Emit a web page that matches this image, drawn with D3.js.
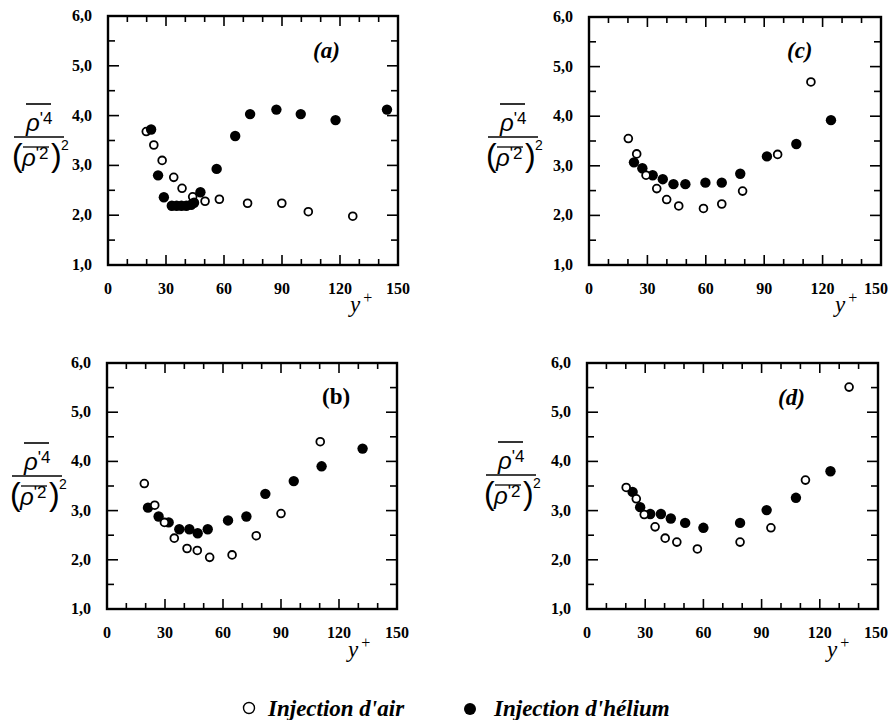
<!DOCTYPE html>
<html>
<head>
<meta charset="utf-8">
<script src="https://cdn.jsdelivr.net/npm/d3@7"></script>
<style>
  html, body { margin: 0; padding: 0; background: #fff; }
  svg { display: block; }
</style>
</head>
<body>
<svg id="chart" width="891" height="720"></svg>
<script>
// ---------------- DATA ----------------
const xTickValues = [0, 30, 60, 90, 120, 150];
const yTickValues = [1, 2, 3, 4, 5, 6];
const yTickLabels = ["1,0", "2,0", "3,0", "4,0", "5,0", "6,0"];
const panelLabels = ["(a)", "(c)", "(b)", "(d)"];
const legendLabels = ["Injection d'air", "Injection d'hélium"];

// panel (a)
const airA = [[19.8,3.68],[23.7,3.41],[28.0,3.10],[34.0,2.76],[38.3,2.54],[43.8,2.37],[50.2,2.28],[57.6,2.32],[72.2,2.24],[89.9,2.24],[103.6,2.07],[126.6,1.98]];
const heliumA = [[22.3,3.72],[25.9,2.80],[28.9,2.36],[33.0,2.19],[35.5,2.19],[38.0,2.19],[40.5,2.19],[43.0,2.21],[44.5,2.25],[47.8,2.46],[56.2,2.93],[65.8,3.59],[73.5,4.03],[87.1,4.12],[99.7,4.03],[117.7,3.91],[144.3,4.12]];
// panel (c)
const airC = [[20.2,3.55],[24.5,3.24],[29.3,2.81],[34.8,2.54],[39.9,2.32],[46.1,2.19],[58.8,2.14],[68.2,2.23],[78.9,2.49],[96.9,3.23],[114.0,4.69]];
const heliumC = [[23.1,3.07],[27.4,2.95],[32.7,2.81],[37.9,2.73],[43.4,2.63],[49.5,2.63],[59.8,2.66],[68.2,2.66],[77.7,2.84],[91.4,3.19],[106.5,3.44],[124.3,3.92]];
// panel (b)
const airB = [[19.3,3.55],[24.7,3.11],[29.7,2.76],[34.8,2.44],[41.4,2.23],[46.7,2.19],[53.1,2.05],[64.7,2.10],[77.2,2.49],[90.0,2.94],[110.3,4.40]];
const heliumB = [[21.2,3.06],[26.7,2.88],[31.9,2.76],[37.4,2.62],[42.6,2.62],[46.9,2.54],[52.1,2.62],[62.6,2.80],[72.1,2.88],[81.9,3.34],[96.6,3.60],[111.0,3.90],[132.2,4.26]];
// panel (d)
const airD = [[20.2,3.47],[25.4,3.24],[29.5,2.92],[35.1,2.67],[40.3,2.44],[46.3,2.36],[56.9,2.22],[78.9,2.36],[94.8,2.65],[112.6,3.62],[135.1,5.51]];
const heliumD = [[23.5,3.38],[27.4,3.07],[32.6,2.93],[38.1,2.93],[43.2,2.84],[50.6,2.75],[60.0,2.65],[78.9,2.75],[92.6,3.01],[107.7,3.26],[125.5,3.80]];

// ---------------- LAYOUT ----------------
const panels = [
  { label: panelLabels[0], italic: true,  box: [108, 398, 16, 265],  air: airA, he: heliumA, airOnTop: false, title: [39, 137],  yplus: [350, 312], lab: [313, 58] },
  { label: panelLabels[1], italic: true,  box: [589, 881, 17, 265],  air: airC, he: heliumC, airOnTop: true,  title: [513, 137], yplus: [835, 312], lab: [787, 58] },
  { label: panelLabels[2], italic: false, box: [107, 397, 363, 609], air: airB, he: heliumB, airOnTop: true,  title: [37, 476],  yplus: [348, 657], lab: [322, 404] },
  { label: panelLabels[3], italic: true,  box: [587, 878, 363, 609], air: airD, he: heliumD, airOnTop: true,  title: [511, 475], yplus: [827, 657], lab: [778, 405] }
];

const SERIF = "Liberation Serif";
const SANS = "Liberation Sans";
const W = 891;
const svg = d3.select("#chart");

panels.forEach(p => {
  const [x0, x1, y0, y1] = p.box;
  const x = d3.scaleLinear().domain([0, 150]).range([x0, x1]);
  const y = d3.scaleLinear().domain([1, 6]).range([y1, y0]);
  const g = svg.append("g");

  // inward ticks, all four sides
  const xMinor = d3.range(0, 151, 10);
  const yMinor = d3.range(1, 6.01, 0.5);
  const tickG = g.append("g").attr("stroke", "#000").attr("stroke-width", 1.6);
  xMinor.forEach(v => {
    const len = (v % 30 === 0) ? 10 : 6;
    tickG.append("line").attr("x1", x(v)).attr("x2", x(v)).attr("y1", y1).attr("y2", y1 - len);
    tickG.append("line").attr("x1", x(v)).attr("x2", x(v)).attr("y1", y0).attr("y2", y0 + len);
  });
  yMinor.forEach(v => {
    const len = (Math.abs(v - Math.round(v)) < 1e-6) ? 11 : 7;
    tickG.append("line").attr("x1", x0).attr("x2", x0 + len).attr("y1", y(v)).attr("y2", y(v));
    tickG.append("line").attr("x1", x1).attr("x2", x1 - len).attr("y1", y(v)).attr("y2", y(v));
  });

  // frame
  g.append("rect").attr("x", x0).attr("y", y0).attr("width", x1 - x0).attr("height", y1 - y0)
    .attr("fill", "none").attr("stroke", "#000").attr("stroke-width", 2.4);

  // tick labels
  g.selectAll(".xl").data(xTickValues).enter().append("text")
    .attr("font-family", SERIF)
    .attr("x", d => Math.min(x(d), W - 15)).attr("y", y1 + 29).attr("text-anchor", "middle")
    .attr("font-weight", "bold").attr("font-size", 16)
    .text(d => d);
  g.selectAll(".yl").data(yTickValues).enter().append("text")
    .attr("font-family", SERIF)
    .attr("x", x0 - 16).attr("y", d => y(d) + 5).attr("text-anchor", "end")
    .attr("font-weight", "bold").attr("font-size", 16)
    .text((d, i) => yTickLabels[i]);

  // points
  const drawHe = () => g.selectAll(null).data(p.he).enter().append("circle")
    .attr("cx", d => x(d[0])).attr("cy", d => y(d[1])).attr("r", 5.2).attr("fill", "#000");
  const drawAir = () => g.selectAll(null).data(p.air).enter().append("circle")
    .attr("cx", d => x(d[0])).attr("cy", d => y(d[1])).attr("r", 3.9)
    .attr("fill", "#fff").attr("stroke", "#000").attr("stroke-width", 1.8);
  if (p.airOnTop) { drawHe(); drawAir(); } else { drawAir(); drawHe(); }

  // panel label
  g.append("text").attr("font-family", SERIF).attr("x", p.lab[0]).attr("y", p.lab[1])
    .attr("font-weight", "bold")
    .attr("font-style", p.italic ? "italic" : "normal").attr("font-size", 23)
    .text(p.label);

  // y+ label
  const yp = g.append("text").attr("font-family", SERIF).attr("x", p.yplus[0]).attr("y", p.yplus[1])
    .attr("font-size", 23);
  yp.append("tspan").attr("font-style", "italic").text("y");
  yp.append("tspan").attr("dx", 3).attr("dy", -9).attr("font-size", 16).text("+");

  // y-axis title: overline(rho'^4) / (overline(rho'^2))^2
  const [cx, ly] = p.title;
  const t = g.append("g").attr("font-family", SANS);
  t.append("line").attr("x1", cx - 25).attr("x2", cx + 25).attr("y1", ly).attr("y2", ly)
    .attr("stroke", "#000").attr("stroke-width", 1.3);
  // numerator
  t.append("line").attr("x1", cx - 13).attr("x2", cx + 12).attr("y1", ly - 33).attr("y2", ly - 33)
    .attr("stroke", "#000").attr("stroke-width", 1.6);
  const num = t.append("text").attr("x", cx - 13).attr("y", ly - 6).attr("font-size", 24);
  num.append("tspan").attr("font-style", "italic").text("ρ");
  num.append("tspan").attr("font-size", 17).attr("dy", -7).text("'4");
  // denominator
  t.append("text").attr("x", cx - 27).attr("y", ly + 29).attr("font-size", 32)
    .attr("font-weight", "300").text("(");
  t.append("line").attr("x1", cx - 16).attr("x2", cx + 10).attr("y1", ly + 10).attr("y2", ly + 10)
    .attr("stroke", "#000").attr("stroke-width", 1.3);
  const den = t.append("text").attr("x", cx - 17).attr("y", ly + 29).attr("font-size", 24);
  den.append("tspan").attr("font-style", "italic").text("ρ");
  den.append("tspan").attr("font-size", 17).attr("dy", -7).text("'2");
  t.append("text").attr("x", cx + 12).attr("y", ly + 29).attr("font-size", 32)
    .attr("font-weight", "300").text(")");
  t.append("text").attr("x", cx + 22).attr("y", ly + 13).attr("font-size", 14).text("2");
});

// legend
const lg = svg.append("g");
lg.append("circle").attr("cx", 249).attr("cy", 708).attr("r", 5.5)
  .attr("fill", "#fff").attr("stroke", "#000").attr("stroke-width", 1.4);
lg.append("text").attr("font-family", SERIF).attr("x", 268).attr("y", 716)
  .attr("font-weight", "bold").attr("font-style", "italic").attr("font-size", 23)
  .text(legendLabels[0]);
lg.append("circle").attr("cx", 470).attr("cy", 709).attr("r", 6).attr("fill", "#000");
lg.append("text").attr("font-family", SERIF).attr("x", 494).attr("y", 716)
  .attr("font-weight", "bold").attr("font-style", "italic").attr("font-size", 23)
  .text(legendLabels[1]);
</script>
</body>
</html>
